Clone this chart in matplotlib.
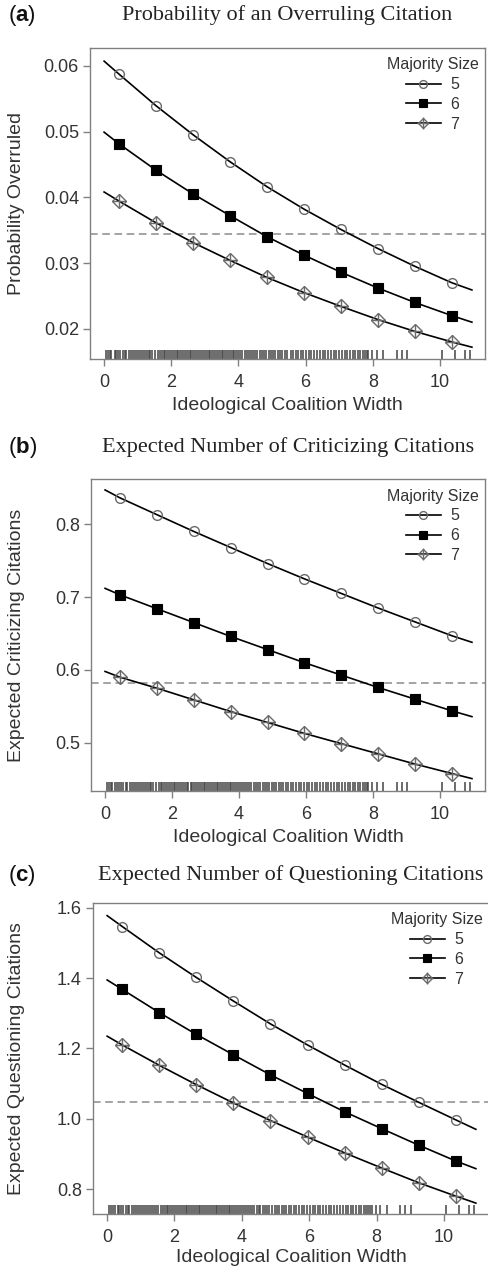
import matplotlib
matplotlib.use("Agg")
import matplotlib.pyplot as plt
from matplotlib.lines import Line2D
from matplotlib.legend_handler import HandlerTuple

plt.rcParams['font.family'] = ['Liberation Sans', 'DejaVu Sans']
plt.rcParams['mathtext.fontset'] = 'custom'
plt.rcParams['mathtext.bf'] = 'Liberation Sans:bold'

# x positions of the markers, and where the fitted curves start/end
x_points = [0.45, 1.55, 2.65, 3.75, 4.85, 5.95, 7.05, 8.15, 9.25, 10.35]
x_start = 0.0
x_end = 10.95

# (a) probability overruled
a_5 = [0.0587, 0.0539, 0.0495, 0.0454, 0.0416, 0.0382, 0.0351, 0.0322, 0.0295, 0.0270]
a_6 = [0.0481, 0.0441, 0.0405, 0.0372, 0.0340, 0.0312, 0.0286, 0.0262, 0.0240, 0.0220]
a_7 = [0.0394, 0.0361, 0.0331, 0.0304, 0.0278, 0.0255, 0.0234, 0.0214, 0.0196, 0.0180]
a_start = [0.0607, 0.0499, 0.0408]
a_end = [0.0259, 0.0210, 0.0172]
a_ref = 0.0344
a_ticks = [0.02, 0.03, 0.04, 0.05, 0.06]
a_ticklabels = ["0.02", "0.03", "0.04", "0.05", "0.06"]

# (b) expected criticizing citations
b_5 = [0.836, 0.813, 0.790, 0.768, 0.746, 0.725, 0.705, 0.685, 0.666, 0.647]
b_6 = [0.703, 0.684, 0.665, 0.646, 0.628, 0.610, 0.593, 0.576, 0.560, 0.544]
b_7 = [0.590, 0.575, 0.559, 0.543, 0.528, 0.513, 0.499, 0.485, 0.471, 0.458]
b_start = [0.847, 0.712, 0.598]
b_end = [0.638, 0.536, 0.451]
b_ref = 0.582
b_ticks = [0.5, 0.6, 0.7, 0.8]
b_ticklabels = ["0.5", "0.6", "0.7", "0.8"]

# (c) expected questioning citations
c_5 = [1.547, 1.472, 1.402, 1.335, 1.270, 1.210, 1.153, 1.098, 1.047, 0.997]
c_6 = [1.368, 1.302, 1.240, 1.182, 1.125, 1.072, 1.020, 0.972, 0.925, 0.880]
c_7 = [1.210, 1.152, 1.097, 1.045, 0.995, 0.948, 0.903, 0.860, 0.818, 0.780]
c_start = [1.578, 1.395, 1.235]
c_end = [0.970, 0.858, 0.760]
c_ref = 1.048
c_ticks = [0.8, 1.0, 1.2, 1.4, 1.6]
c_ticklabels = ["0.8", "1.0", "1.2", "1.4", "1.6"]

# observed coalition widths (rug)
rug_x = [0.05, 0.12, 0.18, 0.22, 0.31, 0.36, 0.42, 0.47, 0.55, 0.61, 0.66, 0.74, 0.79,
         0.85, 0.93, 0.98, 1.04, 1.09, 1.16, 1.21, 1.27, 1.33, 1.38, 1.44, 1.52, 1.60,
         1.66, 1.71, 1.77, 1.82, 1.88, 1.93, 1.99, 2.05, 2.10, 2.16, 2.21, 2.27, 2.33,
         2.38, 2.44, 2.49, 2.55, 2.60, 2.66, 2.72, 2.77, 2.83, 2.88, 2.94, 2.99, 3.05,
         3.11, 3.16, 3.22, 3.27, 3.33, 3.38, 3.44, 3.50, 3.55, 3.61, 3.66, 3.72, 3.77,
         3.83, 3.88, 3.94, 4.00, 4.05, 4.12, 4.18, 4.24, 4.31, 4.37, 4.44, 4.50, 4.55,
         4.63, 4.70, 4.76, 4.82, 4.90, 4.97, 5.03, 5.10, 5.18, 5.25, 5.31, 5.40, 5.46,
         5.55, 5.62, 5.70, 5.78, 5.86, 5.93, 6.02, 6.10, 6.17, 6.26, 6.33, 6.42, 6.51,
         6.58, 6.66, 6.75, 6.84, 6.91, 6.99, 7.08, 7.16, 7.24, 7.31, 7.40, 7.47, 7.55,
         7.62, 7.70, 7.76, 7.82, 7.86, 7.97, 8.11, 8.31, 8.71, 8.86, 9.01, 10.05, 10.45,
         10.74, 10.89]

sizes = ["5", "6", "7"]
xlim = (-0.42, 11.34)
GRAY = '#6a6a6a'
AXCOL = '#808080'


def style_for(i, small=False):
    k = 0.8 if small else 1.0
    if i == 0:
        return dict(marker='o', mfc='none', mec=GRAY, ms=7 * k, mew=1.0)
    if i == 1:
        return dict(marker='s', mfc='black', mec='black', ms=6.5 * k, mew=0.8)
    return dict(marker='D', mfc='none', mec=GRAY, ms=7 * k, mew=1.0)


def draw_panel(ax, series, starts, ends, ref, ticks, ticklabels, ylim):
    for i, vals in enumerate(series):
        ax.plot([x_start] + x_points + [x_end], [starts[i]] + vals + [ends[i]],
                color='black', lw=1.2, zorder=2)
        ax.plot(x_points, vals, ls='none', zorder=3, **style_for(i))
        if i == 2:
            ax.plot(x_points, vals, ls='none', marker='+', ms=10, mec=GRAY,
                    mew=1.0, zorder=3)
    ax.axhline(ref, color='#8a8a8a', lw=1.1, ls=(0, (5, 3)), zorder=1)
    ax.vlines(rug_x, 0, 0.028, transform=ax.get_xaxis_transform(),
              color='#444444', lw=1.1)
    ax.set_xlim(*xlim)
    ax.set_ylim(*ylim)
    ax.set_xticks([0, 2, 4, 6, 8, 10])
    ax.set_yticks(ticks)
    ax.set_yticklabels(ticklabels)
    ax.tick_params(axis='both', colors=AXCOL, labelcolor='#333333',
                   labelsize=13, length=5, width=1.0)
    ax.tick_params(axis='x', pad=6)
    ax.tick_params(axis='y', pad=3)
    for s in ax.spines.values():
        s.set_color(AXCOL)
        s.set_linewidth(1.0)

    h5 = Line2D([], [], color='black', lw=1.2, **style_for(0, True))
    h6 = Line2D([], [], color='black', lw=1.2, **style_for(1, True))
    h7a = Line2D([], [], color='black', lw=1.2, **style_for(2, True))
    h7b = Line2D([], [], ls='none', marker='+', ms=8, mec=GRAY, mew=1.0)
    leg = ax.legend([h5, h6, (h7a, h7b)], sizes, title='Majority Size',
                    loc='upper right', bbox_to_anchor=(1.0, 0.99), frameon=False,
                    fontsize=11.5, title_fontsize=11.5, handlelength=2.2,
                    labelspacing=0.3, handletextpad=0.6, borderpad=0.3,
                    borderaxespad=0.1,
                    handler_map={tuple: HandlerTuple(ndivide=1, pad=0)})
    for t in leg.get_texts():
        t.set_color('#333333')
    leg.get_title().set_color('#333333')


W, H = 489, 1271
fig = plt.figure(figsize=(W / 100, H / 100), dpi=100)


def box(left, top, right, bottom):
    return [left / W, 1 - bottom / H, (right - left) / W, (bottom - top) / H]


panels = [
    (box(90, 48, 485, 359), [a_5, a_6, a_7], a_start, a_end, a_ref, a_ticks,
     a_ticklabels, (0.0154, 0.0627), "a", "Probability of an Overruling Citation",
     "Probability Overruled", 15, 406),
    (box(91, 479, 485, 791), [b_5, b_6, b_7], b_start, b_end, b_ref, b_ticks,
     b_ticklabels, (0.434, 0.862), "b", "Expected Number of Criticizing Citations",
     "Expected Criticizing Citations", 447, 837),
    (box(93, 903, 489, 1214), [c_5, c_6, c_7], c_start, c_end, c_ref, c_ticks,
     c_ticklabels, (0.729, 1.614), "c", "Expected Number of Questioning Citations",
     "Expected Questioning Citations", 875, 1258),
]

for rect, series, st, en, ref, tk, tl, yl, tag, title, ylab, ty, xly in panels:
    ax = fig.add_axes(rect)
    draw_panel(ax, series, st, en, ref, tk, tl, yl)
    cx = rect[0] + rect[2] / 2
    fig.text(cx, 1 - ty / H, title, family=['Liberation Serif', 'DejaVu Serif'],
             fontsize=16, ha='center', va='center', color='#222222')
    fig.text(8 / W, 1 - ty / H, "(" + r"$\mathbf{" + tag + "}$" + ")", fontsize=16,
             ha='left', va='center', color='#111111')
    fig.text(cx, 1 - xly / H, "Ideological Coalition Width", fontsize=14,
             ha='center', va='center', color='#333333')
    cy = rect[1] + rect[3] / 2
    fig.text(17 / W, cy, ylab, fontsize=14, ha='center', va='center',
             rotation=90, color='#333333')

fig.savefig("out.png", dpi=100)
